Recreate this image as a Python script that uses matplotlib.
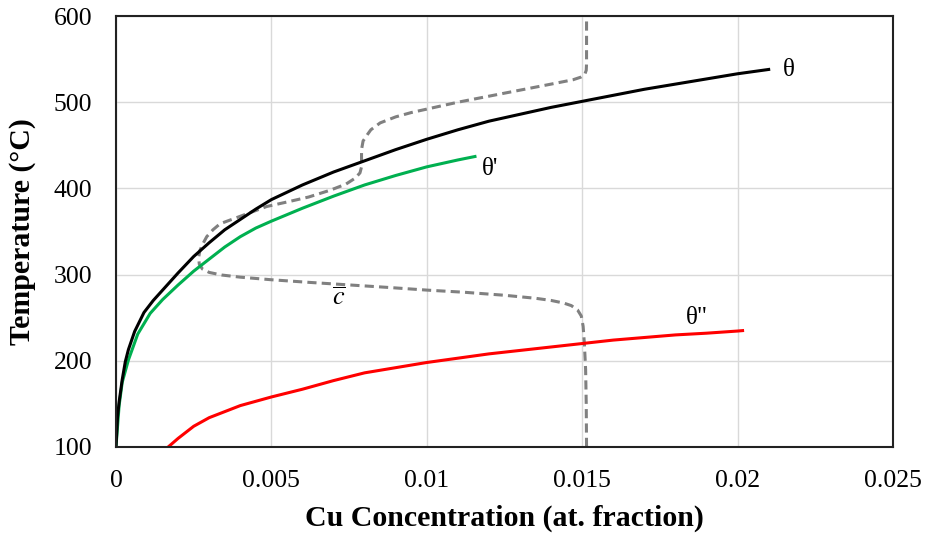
import matplotlib
matplotlib.use("Agg")
import matplotlib.pyplot as plt

# theta (black)
theta_x = [0, 0.00005, 0.0001, 0.0002, 0.0003, 0.0004, 0.0006, 0.0009, 0.0012, 0.0016,
           0.002, 0.0025, 0.003, 0.0035, 0.004, 0.0045, 0.005, 0.006, 0.007, 0.008,
           0.009, 0.010, 0.011, 0.012, 0.013, 0.014, 0.015, 0.016, 0.017, 0.018,
           0.019, 0.020, 0.021]
theta_T = [100, 135, 152, 178, 199, 213, 234, 256, 270, 286,
           302, 321, 337, 352, 364, 376, 387, 404, 419, 432,
           445, 457, 468, 478, 486, 494, 501, 508, 515, 521,
           527, 533, 538]

# theta' (green)
theta_p_x = [0, 0.0001, 0.0002, 0.0004, 0.0007, 0.0011, 0.0015, 0.002, 0.0025, 0.003,
             0.0035, 0.004, 0.0045, 0.005, 0.006, 0.007, 0.008, 0.009, 0.010, 0.011,
             0.01155]
theta_p_T = [100, 148, 175, 201, 231, 255, 271, 288, 304, 318,
             332, 344, 354, 362, 377, 391, 404, 415, 425, 433,
             437]

# theta'' (red)
theta_pp_x = [0.00168, 0.002, 0.0025, 0.003, 0.0035, 0.004, 0.005, 0.006, 0.007, 0.008,
              0.009, 0.010, 0.011, 0.012, 0.013, 0.014, 0.015, 0.016, 0.017, 0.018,
              0.019, 0.020, 0.02016]
theta_pp_T = [100, 110, 124, 134, 141, 148, 158, 167, 177, 186,
              192, 198, 203, 208, 212, 216, 220, 224, 227, 230,
              232, 234.5, 235]

# c-bar (dashed gray), from the bottom up
cbar_x = [0.01514, 0.01513, 0.01511, 0.01507, 0.01503, 0.01497, 0.01485, 0.01465, 0.0144, 0.0140,
          0.0135, 0.0125, 0.0112, 0.0100, 0.0088, 0.0075, 0.0062, 0.0050, 0.0040, 0.0034,
          0.0030, 0.00278, 0.00268, 0.00266, 0.0027, 0.0028, 0.00292, 0.00312, 0.00335, 0.0038,
          0.0041, 0.00485, 0.0056, 0.0062, 0.0069, 0.0074, 0.0077, 0.00785, 0.0079, 0.0079,
          0.00795, 0.0081, 0.0082, 0.0085, 0.0090, 0.0095, 0.0100, 0.011, 0.012, 0.013,
          0.014, 0.0147, 0.01495, 0.01508, 0.01513, 0.01514, 0.01514]
cbar_T = [100, 150, 190, 220, 240, 252, 259, 264, 267, 270,
          272.5, 276, 279.5, 282, 285, 288, 291, 294, 297, 299.5,
          302.5, 306.5, 312, 320, 328, 336, 344, 352, 359, 365,
          369, 379, 385, 390, 398, 405, 412, 418, 425, 445,
          455, 463, 468, 476, 483, 488, 492, 500, 507, 514,
          521, 526, 529, 532, 537, 545, 600]

x_ticks = [0, 0.005, 0.01, 0.015, 0.02, 0.025]
x_tick_labels = ['0', '0.005', '0.01', '0.015', '0.02', '0.025']
y_ticks = [100, 200, 300, 400, 500, 600]

plt.rcParams['font.family'] = ['Liberation Serif', 'DejaVu Serif']
plt.rcParams['mathtext.fontset'] = 'stix'

fig = plt.figure(figsize=(9.25, 5.34), dpi=100)
ax = fig.add_axes([0.1254, 0.163, 0.840, 0.807])

lw = 2.2
ax.plot(cbar_x, cbar_T, color='#808080', linewidth=lw, linestyle=(0, (3, 1.7)))
ax.plot(theta_pp_x, theta_pp_T, color='#ff0000', linewidth=lw)
ax.plot(theta_p_x, theta_p_T, color='#00b050', linewidth=lw)
ax.plot(theta_x, theta_T, color='black', linewidth=lw)

ax.text(0.02145, 537, 'θ', fontsize=18, va='center', ha='left')
ax.text(0.01178, 423, "θ'", fontsize=18, va='center', ha='left')
ax.text(0.0187, 250, 'θ"', fontsize=18, va='center', ha='center')
ax.text(0.00718, 286, r'$\overline{c}$', fontsize=19, va='top', ha='center')

ax.set_xlim(0, 0.025)
ax.set_ylim(100, 600)
ax.set_xticks(x_ticks)
ax.set_xticklabels(x_tick_labels)
ax.set_yticks(y_ticks)
ax.tick_params(axis='x', length=0, labelsize=18.5, pad=16.5)
ax.tick_params(axis='y', length=0, labelsize=18.5, pad=17)
ax.grid(True, color='#d9d9d9', linewidth=1.0)
ax.set_axisbelow(True)
for s in ax.spines.values():
    s.set_linewidth(1.5)
    s.set_color('#222222')

ax.set_xlabel('Cu Concentration (at. fraction)', fontsize=21.5, fontweight='bold', labelpad=9)
ax.set_ylabel('Temperature (°C)', fontsize=21.5, fontweight='bold', labelpad=13)

fig.savefig('out.png', dpi=100)
